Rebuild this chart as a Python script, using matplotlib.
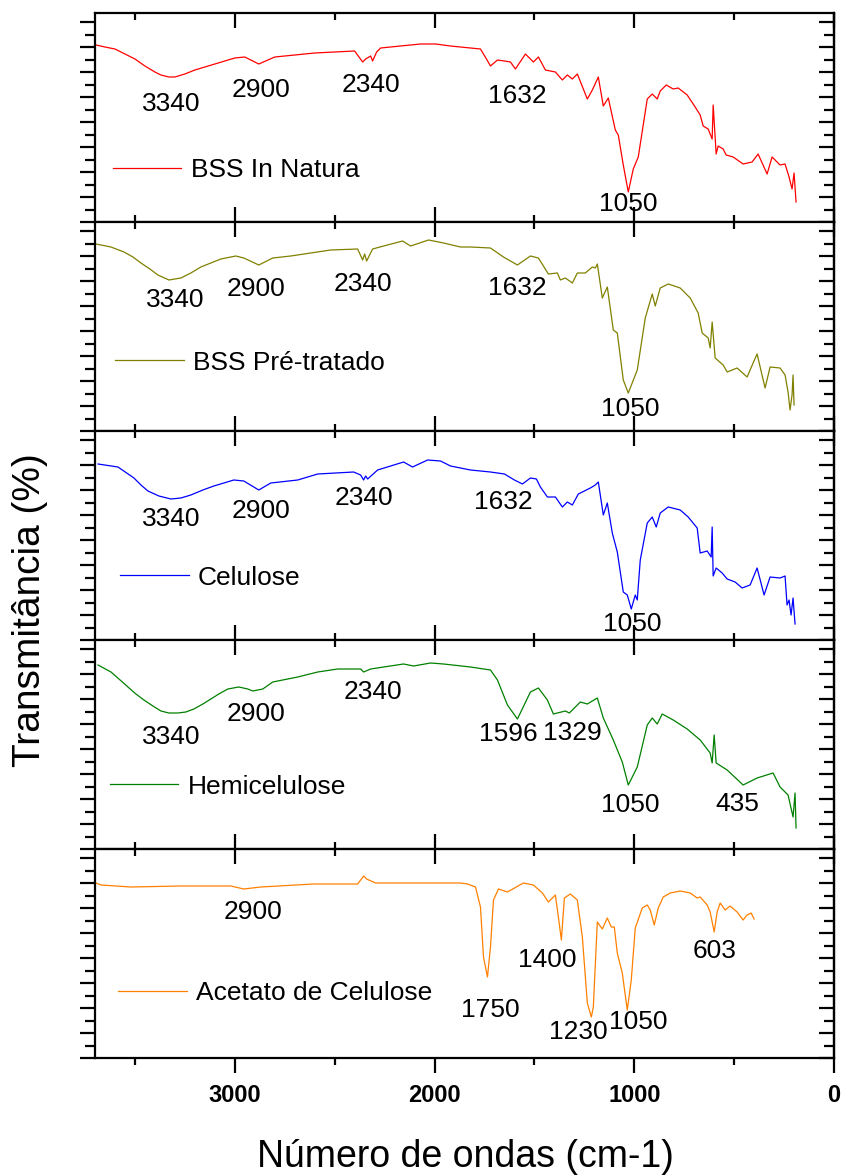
import matplotlib
matplotlib.use("Agg")
import matplotlib.pyplot as plt
from matplotlib.ticker import MultipleLocator

plt.rcParams['font.family'] = ['Liberation Sans', 'DejaVu Sans']

# FTIR spectra, transmittance in arbitrary units (panel height ~209)
wn_natura = [3695, 3650, 3600, 3550, 3500, 3450, 3400, 3370, 3330, 3300, 3250, 3200, 3150, 3100,
             3050, 3000, 2950, 2880, 2800, 2700, 2600,
             2500, 2400, 2360, 2345, 2320, 2310, 2290, 2270, 2170, 2070, 1995, 1920, 1770, 1740,
             1720, 1685, 1650, 1620, 1595, 1545, 1505, 1480, 1445, 1395, 1360, 1335, 1310, 1285,
             1235, 1210, 1180, 1155, 1130, 1095, 1080, 1055, 1030, 1005, 980, 935, 910, 885, 870,
             840, 805, 780, 735, 695, 670, 655, 630, 610, 605, 590, 580, 555, 540, 505, 455, 410,
             380, 335, 310, 270, 245, 225, 210, 200, 190]
t_natura = [177, 175, 173, 168, 163, 156, 150, 147, 145, 145, 148, 152, 155, 158,
            161, 164, 165, 158, 165, 167, 169,
            170, 171, 160, 163, 166, 161, 170, 174, 176, 178, 178, 176, 173, 163,
            156, 162, 161, 160, 153, 168, 160, 165, 152, 150, 142, 147, 143, 148,
            123, 132, 145, 116, 124, 92, 87, 57, 30, 53, 65, 123, 128, 123, 131,
            137, 133, 134, 127, 115, 107, 96, 93, 83, 117, 68, 76, 73, 67, 65, 58, 60,
            68, 48, 65, 57, 58, 45, 33, 49, 20]

wn_pre = [3695, 3620, 3555, 3510, 3470, 3425, 3385, 3330, 3270, 3220, 3170, 3120, 3070, 2995,
          2955, 2880, 2810, 2720,
          2620, 2520, 2385, 2360, 2350, 2340, 2310, 2255, 2160, 2120, 2030, 1955, 1870, 1820,
          1720, 1655, 1585, 1520, 1480, 1430, 1385, 1370, 1345, 1310, 1285, 1245, 1210, 1195,
          1185, 1160, 1135, 1105, 1085, 1055, 1030, 985, 945, 910, 895, 870, 830, 770, 720,
          680, 660, 630, 620, 610, 595, 555, 535, 485, 435, 405, 385, 345, 320, 270, 245,
          230, 220, 210, 205, 200]
t_pre = [187, 184, 179, 174, 168, 162, 156, 151, 153, 158, 164, 168, 172, 175,
         173, 166, 173, 175,
         178, 181, 182, 171, 177, 170, 182, 185, 190, 185, 191, 188, 184, 184,
         183, 174, 166, 175, 173, 157, 158, 151, 153, 148, 158, 158, 164, 163,
         167, 133, 144, 101, 98, 51, 38, 61, 113, 137, 125, 143, 147, 143, 133,
         118, 98, 93, 83, 109, 73, 66, 59, 63, 54, 68, 77, 43, 64, 63, 56,
         39, 21, 36, 56, 26]

wn_cel = [3685, 3585, 3505, 3470, 3435, 3380, 3320, 3270, 3220, 3160, 3105, 3005, 2955, 2880,
          2820, 2685, 2585, 2405,
          2370, 2355, 2345, 2335, 2285, 2220, 2155, 2110, 2035, 1970, 1920, 1820, 1720, 1650,
          1600, 1560, 1520, 1490, 1470, 1435, 1395, 1360, 1335, 1310, 1280, 1220, 1195, 1180,
          1155, 1135, 1110, 1085, 1055, 1035, 1015, 995, 985, 970, 935, 910, 890, 870, 830,
          770, 730, 685, 670, 635, 615, 610, 605, 590, 560, 535, 495, 460, 420, 385, 350,
          320, 270, 245, 235, 225, 215, 205, 195]
t_cel = [176, 173, 162, 155, 149, 144, 141, 142, 145, 150, 154, 160, 159, 150,
         157, 160, 166, 168,
         165, 160, 164, 161, 170, 174, 178, 173, 180, 179, 174, 170, 168, 166,
         160, 156, 162, 161, 153, 143, 143, 133, 138, 135, 146, 152, 155, 158,
         125, 137, 107, 88, 48, 45, 31, 45, 40, 80, 117, 123, 113, 127, 133,
         130, 123, 112, 87, 89, 83, 113, 64, 72, 67, 61, 58, 52, 55, 72, 45,
         63, 62, 64, 35, 40, 25, 42, 16]

wn_hemi = [3685, 3620, 3580, 3535, 3495, 3455, 3410, 3370, 3330, 3285, 3245, 3205, 3160, 3120,
           3080, 3035, 2980, 2935, 2910, 2860, 2810,
           2685, 2585, 2485, 2370, 2355, 2320, 2255, 2155, 2105, 2020, 1955, 1820, 1720, 1685,
           1635, 1585, 1520, 1480, 1435, 1405, 1345, 1325, 1270, 1235, 1185, 1155, 1105, 1060,
           1030, 985, 935, 910, 885, 860, 805, 735, 670, 620, 610, 600, 590, 535, 455, 385,
           305, 270, 230, 205, 195, 190]
t_hemi = [184, 177, 170, 162, 155, 149, 143, 138, 136, 136, 137, 140, 145, 150,
          155, 160, 162, 160, 158, 160, 167,
          172, 177, 180, 180, 177, 180, 182, 185, 183, 186, 185, 182, 179, 169,
          144, 130, 157, 161, 149, 135, 138, 136, 147, 145, 151, 131, 109, 87,
          64, 82, 124, 131, 125, 135, 129, 120, 109, 96, 86, 114, 86, 79, 64, 71,
          76, 62, 54, 32, 56, 21]

wn_acet = [3695, 3670, 3520, 3270, 3020, 2955, 2870, 2605, 2385, 2355, 2340, 2295, 2105, 1870,
           1835, 1795, 1770, 1755, 1735, 1720, 1705, 1680, 1635, 1555, 1505, 1460, 1430, 1395,
           1380, 1365, 1350, 1320, 1285, 1260, 1235, 1215, 1205, 1185, 1160, 1135, 1115, 1100,
           1085, 1060, 1035, 1015, 995, 960, 935, 920, 900, 880, 855, 820, 770, 720, 685,
           670, 635, 620, 600, 585, 570, 545, 520, 485, 455, 435, 415, 400]
t_acet = [175, 173, 171, 172, 172, 169, 171, 174, 174, 182, 179, 175, 175, 175,
          174, 171, 151, 101, 81, 111, 158, 169, 166, 175, 173, 165, 156, 163,
          141, 118, 160, 164, 158, 121, 55, 41, 51, 136, 129, 140, 131, 131,
          105, 85, 48, 78, 130, 150, 153, 148, 133, 150, 161, 165, 167, 165, 160,
          161, 153, 146, 126, 146, 155, 148, 152, 146, 138, 143, 145, 139]

series_labels = ['BSS In Natura', 'BSS Pré-tratado', 'Celulose', 'Hemicelulose', 'Acetato de Celulose']
series_colors = ['#ff0000', '#808000', '#0000ff', '#008000', '#ff8000']
series_wn = [wn_natura, wn_pre, wn_cel, wn_hemi, wn_acet]
series_t = [t_natura, t_pre, t_cel, t_hemi, t_acet]

# peak labels per panel: (text, wavenumber, level)
peaks = [
    [('3340', 3320, 118), ('2900', 2870, 132), ('2340', 2320, 137), ('1632', 1585, 126), ('1050', 1030, 18)],
    [('3340', 3300, 131), ('2900', 2895, 142), ('2340', 2360, 147), ('1632', 1585, 143), ('1050', 1020, 22)],
    [('3340', 3320, 121), ('2900', 2870, 129), ('2340', 2355, 142), ('1632', 1655, 138), ('1050', 1010, 16)],
    [('3340', 3320, 112), ('2900', 2895, 135), ('2340', 2310, 157), ('1596', 1630, 115), ('1329', 1310, 116),
     ('1050', 1020, 44), ('435', 485, 45)],
    [('2900', 2910, 146), ('1750', 1720, 48), ('1400', 1435, 98), ('1230', 1280, 26), ('1050', 980, 36),
     ('603', 600, 107)],
]
legend_pos = [(0.024, 0.25), (0.027, 0.327), (0.034, 0.298), (0.020, 0.298), (0.031, 0.31)]

fig = plt.figure(figsize=(8.44, 11.75), dpi=100)
left, right = 95 / 844, 834 / 844
edges = [13, 222, 431, 640, 849, 1058]

for i in range(5):
    y0 = 1 - edges[i + 1] / 1175
    h = (edges[i + 1] - edges[i]) / 1175
    ax = fig.add_axes([left, y0, right - left, h])
    ax.plot(series_wn[i], series_t[i], color=series_colors[i], lw=0.9, label=series_labels[i])
    ax.set_xlim(3700, 0)
    ax.set_ylim(0, 209)
    for s in ax.spines.values():
        s.set_linewidth(1.6)

    ax.xaxis.set_major_locator(MultipleLocator(1000))
    ax.xaxis.set_minor_locator(MultipleLocator(500))
    ax.yaxis.set_major_locator(MultipleLocator(25))
    ax.yaxis.set_minor_locator(MultipleLocator(12.5))
    ax.tick_params(axis='y', which='major', direction='out', length=11, width=1.6, labelleft=False)
    ax.tick_params(axis='y', which='minor', direction='out', length=7, width=1.6)

    # right side ticks point inwards
    sec = ax.secondary_yaxis('right')
    sec.yaxis.set_major_locator(MultipleLocator(25))
    sec.yaxis.set_minor_locator(MultipleLocator(12.5))
    sec.tick_params(which='major', direction='in', length=11, width=1.6, labelright=False)
    sec.tick_params(which='minor', direction='in', length=7, width=1.6)
    sec.spines['right'].set_linewidth(1.6)

    if i < 4:
        ax.tick_params(axis='x', which='major', direction='in', top=True, bottom=True,
                       length=11, width=1.6, labelbottom=False)
        ax.tick_params(axis='x', which='minor', direction='in', top=True, bottom=True,
                       length=5, width=1.6)
    else:
        ax.tick_params(axis='x', which='major', direction='out', length=11, width=1.6,
                       pad=8, labelsize=17)
        ax.tick_params(axis='x', which='minor', direction='out', length=5, width=1.6)
        ax.set_xticks([3000, 2000, 1000, 0])
        ax.set_xticklabels(['3000', '2000', '1000', '0'], fontweight='bold', fontsize=17)
        top = ax.secondary_xaxis('top')
        top.xaxis.set_major_locator(MultipleLocator(1000))
        top.xaxis.set_minor_locator(MultipleLocator(500))
        top.tick_params(which='major', direction='in', length=11, width=1.6, labeltop=False)
        top.tick_params(which='minor', direction='in', length=5, width=1.6)

    for txt, x, y in peaks[i]:
        ax.text(x, y, txt, ha='center', va='center', fontsize=19)

    ax.legend(loc='center left', bbox_to_anchor=legend_pos[i], frameon=False, fontsize=19,
              handlelength=2.6, handletextpad=0.35, borderpad=0, borderaxespad=0)

fig.text(30 / 844, 1 - 610 / 1175, 'Transmitância (%)', rotation=90, ha='center', va='center', fontsize=28)
fig.text(465 / 844, 1 - 1157 / 1175, 'Número de ondas (cm-1)', ha='center', va='center', fontsize=27)

fig.savefig('out.png', dpi=100)
